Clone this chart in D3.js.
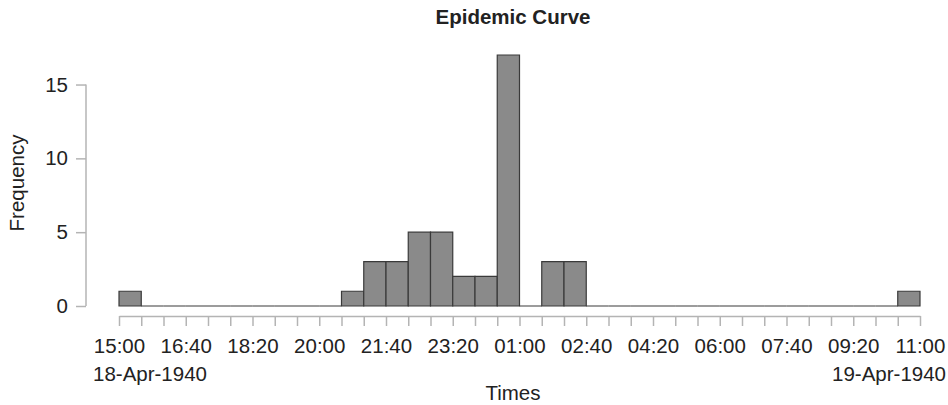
<!DOCTYPE html>
<html>
<head>
<meta charset="utf-8">
<script src="https://cdn.jsdelivr.net/npm/d3@7"></script>
<style>
  html, body { margin: 0; padding: 0; background: #fff; }
  svg { display: block; font-family: "Liberation Sans", Arial, Helvetica, sans-serif; }
</style>
</head>
<body>
<svg id="chart" width="948" height="405"></svg>
<script>
// Onset times binned into 33 min 20 s intervals, 15:00 18-Apr-1940 to 11:00 19-Apr-1940
const binStartUTC = Date.UTC(1940, 3, 18, 15, 0);
const binMinutes = 100 / 3;
const caseCounts = [
  1, 0, 0, 0, 0, 0, 0, 0, 0, 0,
  1, 3, 3, 5, 5, 2, 2, 17, 0, 3,
  3, 0, 0, 0, 0, 0, 0, 0, 0, 0,
  0, 0, 0, 0, 0, 1
];
const yTicks = [0, 5, 10, 15];
const dateLabels = ["18-Apr-1940", "19-Apr-1940"];
const titleText = "Epidemic Curve";
const xTitle = "Times";
const yTitle = "Frequency";

const minuteMs = 60 * 1000;
const bins = caseCounts.map((n, i) => ({
  x0: new Date(binStartUTC + i * binMinutes * minuteMs),
  x1: new Date(binStartUTC + (i + 1) * binMinutes * minuteMs),
  n
}));
const edges = [bins[0].x0, ...bins.map(b => b.x1)];

const svg = d3.select("#chart");
const x = d3.scaleUtc()
  .domain([edges[0], edges[edges.length - 1]])
  .range([119, 920]);
const y = d3.scaleLinear().domain([0, 17]).range([306, 55]);

const axisColor = "#b4b4b4";
const textColor = "#222";

// bars drawn as closed paths so that empty bins still show as a line on the baseline
svg.append("g")
  .selectAll("path")
  .data(bins)
  .join("path")
  .attr("d", d => {
    const p = d3.path();
    p.moveTo(x(d.x0), y(0));
    p.lineTo(x(d.x0), y(d.n));
    p.lineTo(x(d.x1), y(d.n));
    p.lineTo(x(d.x1), y(0));
    p.closePath();
    return p.toString();
  })
  .attr("fill", "#8a8a8a")
  .attr("stroke", "#3a3a3a")
  .attr("stroke-width", 1.2);

// x axis: a tick at every bin edge, label every third edge
const fmt = d3.utcFormat("%H:%M");
const xAxis = d3.axisBottom(x)
  .tickValues(edges)
  .tickSize(10)
  .tickPadding(12)
  .tickSizeOuter(0)
  .tickFormat((d, i) => (i % 3 === 0 ? fmt(d) : ""));
const gx = svg.append("g")
  .attr("transform", "translate(0,316)")
  .call(xAxis);
gx.select(".domain").attr("stroke", axisColor).attr("stroke-width", 1.5);
gx.selectAll(".tick line").attr("stroke", axisColor).attr("stroke-width", 1.5);
gx.selectAll(".tick text")
  .attr("fill", textColor)
  .style("font-size", "20.5px");

// y axis
const yAxis = d3.axisLeft(y)
  .tickValues(yTicks)
  .tickSize(10)
  .tickPadding(8)
  .tickSizeOuter(0);
const gy = svg.append("g")
  .attr("transform", "translate(86,0)")
  .call(yAxis);
gy.select(".domain")
  .attr("d", `M0,${y(yTicks[0])}V${y(yTicks[yTicks.length - 1])}`)
  .attr("stroke", axisColor).attr("stroke-width", 1.5);
gy.selectAll(".tick line").attr("stroke", axisColor).attr("stroke-width", 1.5);
gy.selectAll(".tick text")
  .attr("fill", textColor)
  .style("font-size", "20.5px");

// dates under the first and last time labels
svg.append("text")
  .attr("x", 93).attr("y", 381)
  .attr("fill", textColor).style("font-size", "20.5px")
  .text(dateLabels[0]);
svg.append("text")
  .attr("x", 946).attr("y", 381)
  .attr("text-anchor", "end")
  .attr("fill", textColor).style("font-size", "20.5px")
  .text(dateLabels[1]);

// titles
svg.append("text")
  .attr("x", 513).attr("y", 24)
  .attr("text-anchor", "middle")
  .attr("fill", textColor)
  .style("font-size", "20.5px").style("font-weight", "bold")
  .text(titleText);
svg.append("text")
  .attr("x", 513).attr("y", 400)
  .attr("text-anchor", "middle")
  .attr("fill", textColor).style("font-size", "20.5px")
  .text(xTitle);
svg.append("text")
  .attr("transform", "translate(24,183) rotate(-90)")
  .attr("text-anchor", "middle")
  .attr("fill", textColor).style("font-size", "20.5px")
  .text(yTitle);
</script>
</body>
</html>
